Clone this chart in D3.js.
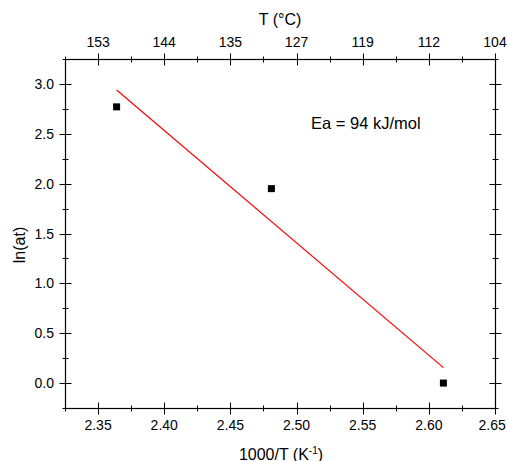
<!DOCTYPE html>
<html><head><meta charset="utf-8">
<script src="https://cdn.jsdelivr.net/npm/d3@7"></script>
<style>body{margin:0;background:#fff}svg{display:block}text{font-family:"Liberation Sans",Arial,sans-serif;fill:#000}</style>
</head><body>
<svg id="c" width="507" height="461"></svg>
<script>
const invT = [2.364, 2.481, 2.611];
const lnAt = [2.77, 1.95, 0.0];
const fitX = [2.364, 2.611];
const fitY = [2.939, 0.155];
const xTicks = [2.35, 2.40, 2.45, 2.50, 2.55, 2.60, 2.65];
const xMinor = [2.325, 2.375, 2.425, 2.475, 2.525, 2.575, 2.625];
const topTickLabels = ["153", "144", "135", "127", "119", "112", "104"];
const yTicks = [0.0, 0.5, 1.0, 1.5, 2.0, 2.5, 3.0];
const yMinor = [-0.25, 0.25, 0.75, 1.25, 1.75, 2.25, 2.75, 3.25];

const L = 65, R = 495, T = 59, B = 408;
const W = 507;
const svg = d3.select("#c");
const x = d3.scaleLinear().domain([2.325, 2.65]).range([L, R]);
const y = d3.scaleLinear().domain([-0.25, 3.25]).range([B, T]);

function crossTicks(g, vals, len, horiz) {
  g.selectAll("line.t" + len).data(vals).join("line")
    .attr("stroke", "#000").attr("stroke-width", 1)
    .attr("x1", d => horiz ? Math.round(x(d)) + 0.5 : -len)
    .attr("x2", d => horiz ? Math.round(x(d)) + 0.5 : len)
    .attr("y1", d => horiz ? -len : Math.round(y(d)) + 0.5)
    .attr("y2", d => horiz ? len : Math.round(y(d)) + 0.5);
}

// frame
svg.append("rect").attr("x", L + 0.5).attr("y", T + 0.5).attr("width", R - L).attr("height", B - T)
  .attr("fill", "none").attr("stroke", "#000").attr("stroke-width", 1.2);

// bottom axis
const gb = svg.append("g").attr("transform", `translate(0,${B + 0.5})`);
crossTicks(gb, xTicks, 6, true); crossTicks(gb, xMinor, 3, true);
gb.selectAll("text").data(xTicks).join("text").attr("x", d => x(d)).attr("y", 21.5)
  .attr("text-anchor", "middle").attr("font-size", 14).text(d => d3.format(".2f")(d))
  .each(function () {
    const b = this.getBBox();
    if (b.x + b.width > W - 1) d3.select(this).attr("x", +d3.select(this).attr("x") - (b.x + b.width - (W - 1)));
  });

// top axis
const gt = svg.append("g").attr("transform", `translate(0,${T + 0.5})`);
crossTicks(gt, xTicks, 6, true); crossTicks(gt, xMinor, 3, true);
gt.selectAll("text").data(xTicks).join("text").attr("x", d => x(d)).attr("y", -12.5)
  .attr("text-anchor", "middle").attr("font-size", 14).text((d, i) => topTickLabels[i]);

// left axis
const gl = svg.append("g").attr("transform", `translate(${L + 0.5},0)`);
crossTicks(gl, yTicks, 6, false); crossTicks(gl, yMinor, 3, false);
gl.selectAll("text").data(yTicks).join("text").attr("x", -11.5).attr("y", d => y(d) + 5)
  .attr("text-anchor", "end").attr("font-size", 14).text(d => d3.format(".1f")(d));

// right axis
const gr = svg.append("g").attr("transform", `translate(${R + 0.5},0)`);
crossTicks(gr, yTicks, 6, false); crossTicks(gr, yMinor, 3, false);

// titles
svg.append("text").attr("x", (L + R) / 2).attr("y", 25).attr("text-anchor", "middle")
  .attr("font-size", 16).text("T (°C)");
const bt = svg.append("text").attr("x", (L + R) / 2 + 1).attr("y", 459.5).attr("text-anchor", "middle")
  .attr("font-size", 16);
bt.append("tspan").text("1000/T (K");
bt.append("tspan").attr("font-size", 10).attr("dy", -6).text("-1");
bt.append("tspan").attr("dy", 6).text(")");
svg.append("text").attr("transform", `translate(25,245) rotate(-90)`).attr("text-anchor", "middle")
  .attr("font-size", 16).text("ln(at)");

// fit line
svg.append("line").attr("x1", x(fitX[0])).attr("y1", y(fitY[0])).attr("x2", x(fitX[1])).attr("y2", y(fitY[1]))
  .attr("stroke", "#ff0000").attr("stroke-width", 1.2);

// points
svg.selectAll("rect.pt").data(invT).join("rect").attr("class", "pt")
  .attr("x", d => x(d) - 3.5).attr("y", (d, i) => y(lnAt[i]) - 3.5)
  .attr("width", 7).attr("height", 7).attr("fill", "#000");

svg.append("text").attr("x", 311).attr("y", 129).attr("font-size", 16.5).text("Ea = 94 kJ/mol");
</script>
</body></html>
